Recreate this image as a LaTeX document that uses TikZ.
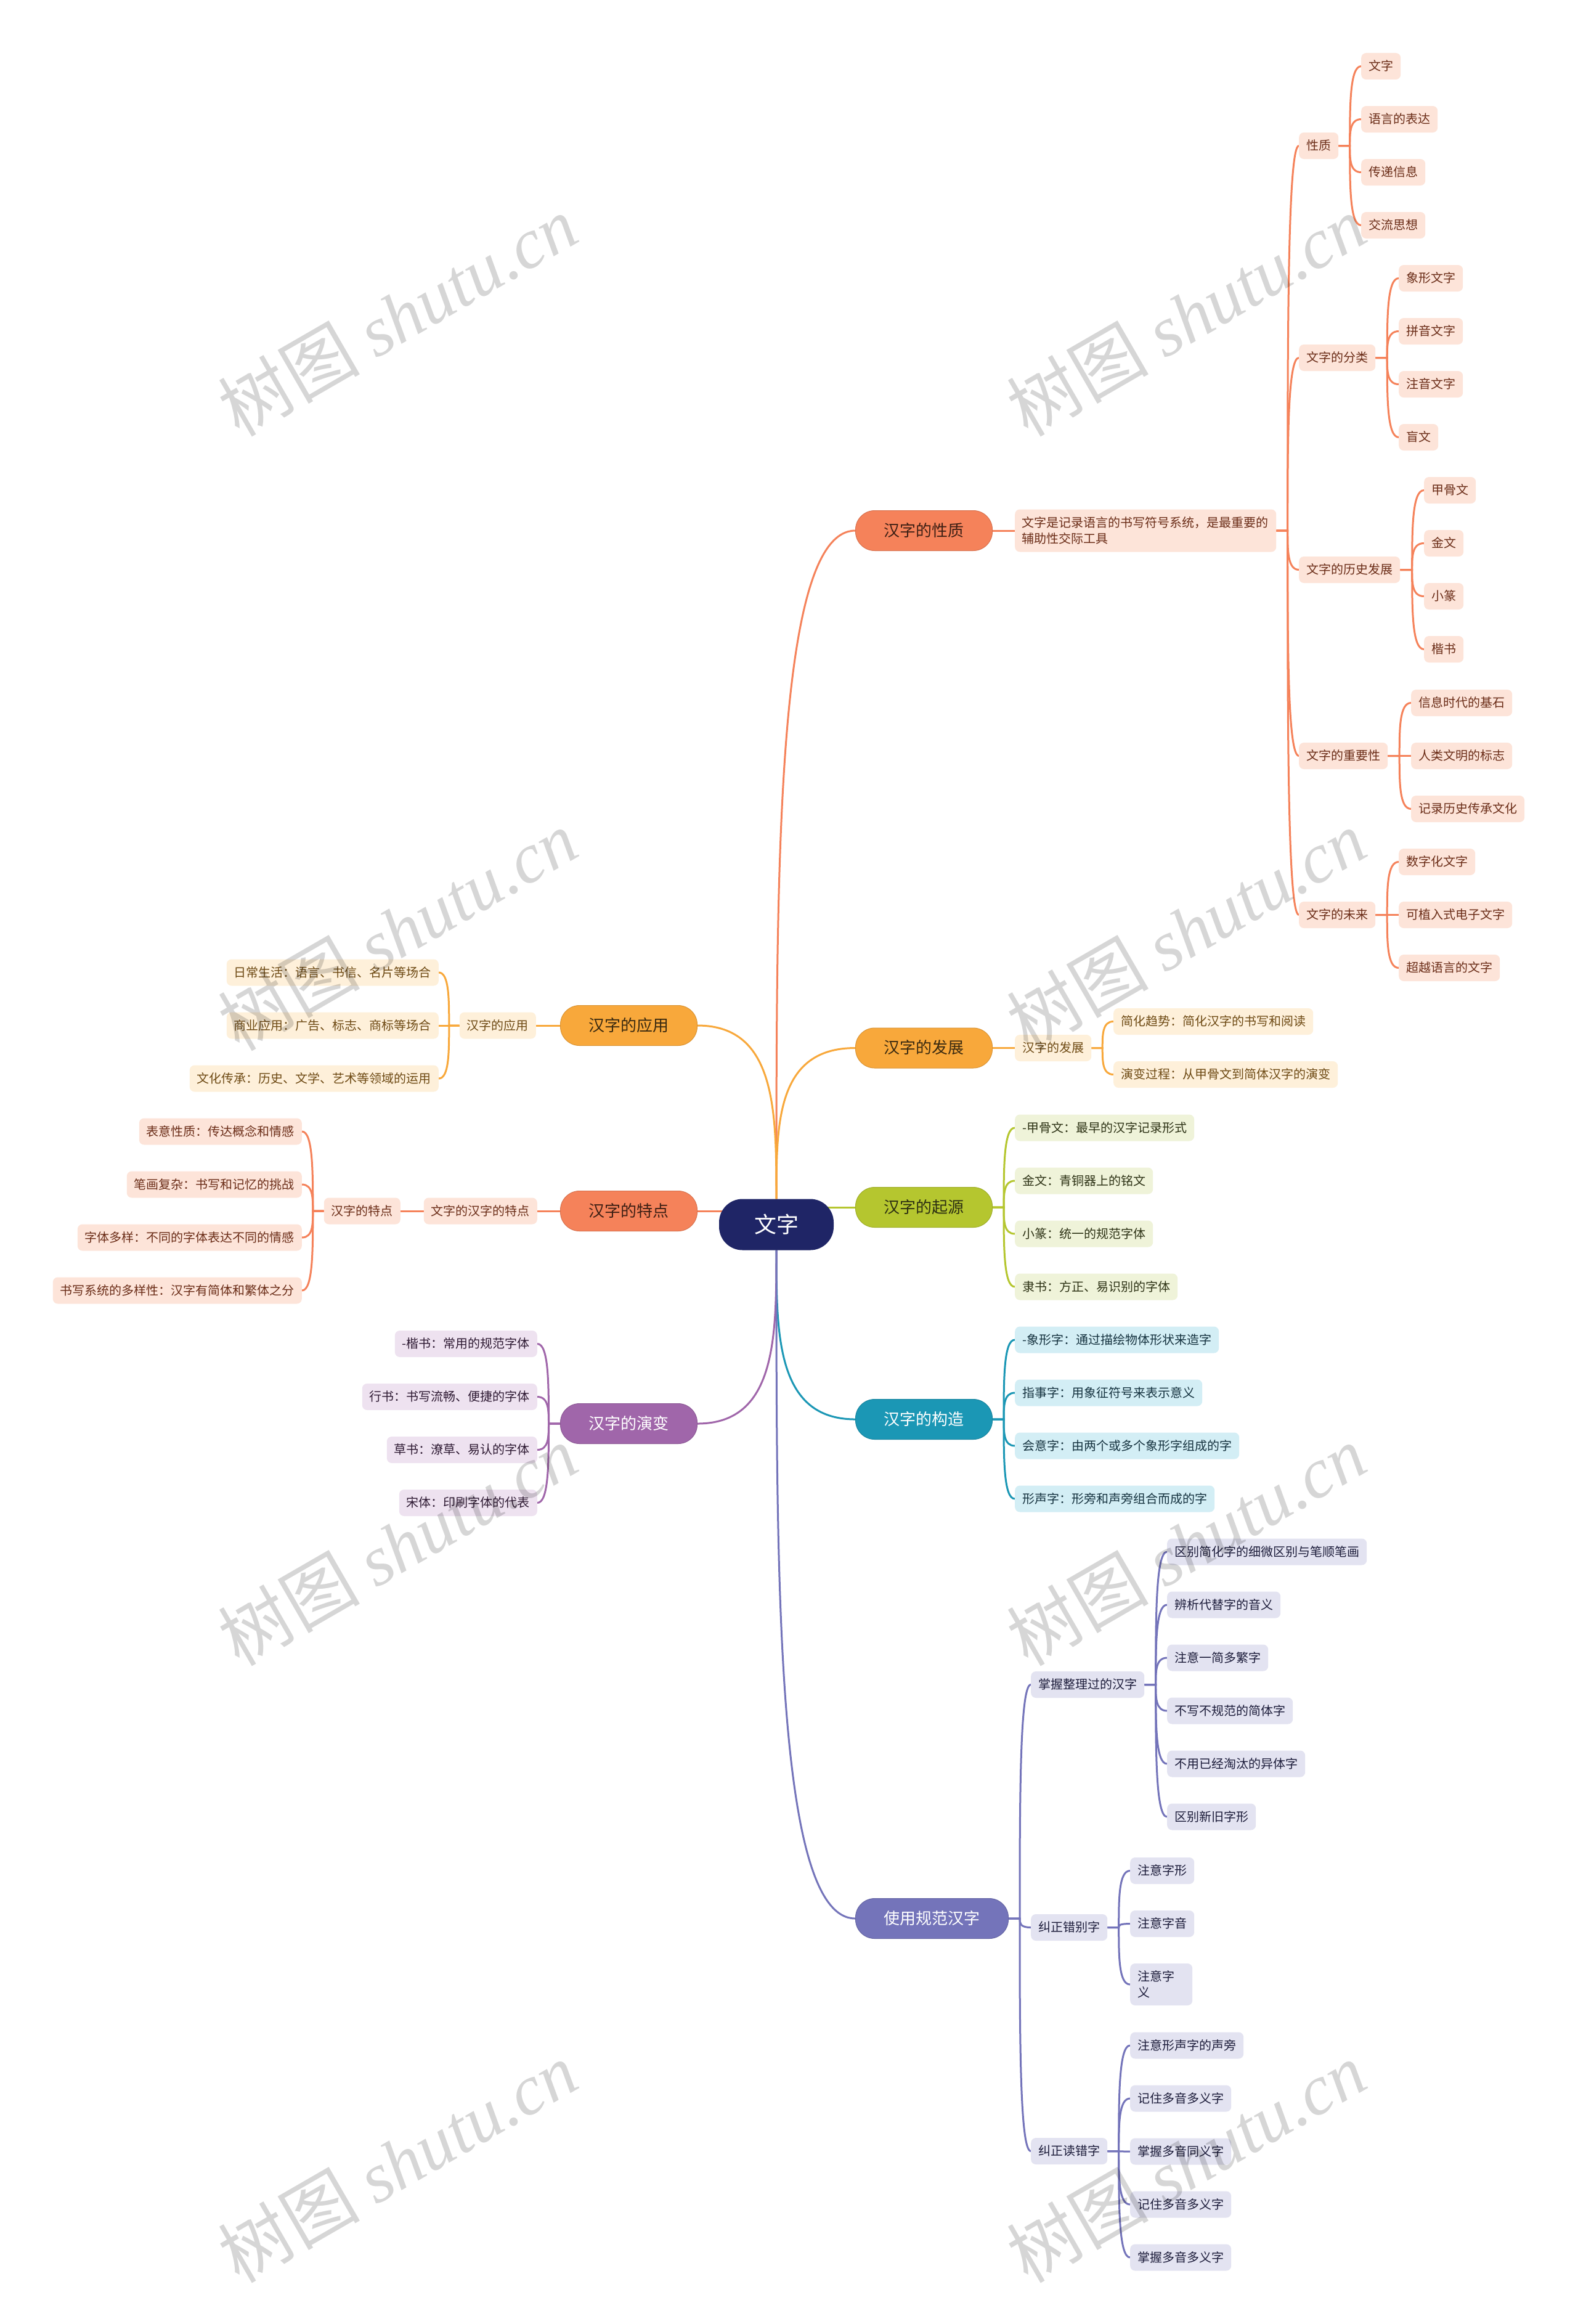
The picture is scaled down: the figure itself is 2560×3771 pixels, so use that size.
\documentclass[tikz,border=0pt]{standalone}
\usepackage{fontspec}
\setmainfont{Noto Sans CJK SC}
\newfontfamily\wmserif{Liberation Serif}
\usetikzlibrary{calc,backgrounds}
\definecolor{cA}{HTML}{F5825A}\definecolor{fA}{HTML}{FDE4D9}\definecolor{tA}{HTML}{6B2D18}\definecolor{mtA}{HTML}{3D1F14}
\definecolor{cB}{HTML}{F8A83B}\definecolor{fB}{HTML}{FEF0DA}\definecolor{tB}{HTML}{6E4A14}\definecolor{mtB}{HTML}{3A2A10}
\definecolor{cC}{HTML}{B5C62F}\definecolor{fC}{HTML}{EFF3D9}\definecolor{tC}{HTML}{2E3316}\definecolor{mtC}{HTML}{2C2F12}
\definecolor{cD}{HTML}{1B97B5}\definecolor{fD}{HTML}{D3EEF5}\definecolor{tD}{HTML}{163340}
\definecolor{cE}{HTML}{7474BA}\definecolor{fE}{HTML}{E3E3F1}\definecolor{tE}{HTML}{1D1D3B}
\definecolor{cF}{HTML}{A066AA}\definecolor{fF}{HTML}{EEE2F0}\definecolor{tF}{HTML}{2E1A33}
\definecolor{cCen}{HTML}{1F2566}
\tikzset{
  sub/.style={font=\fontsize{20}{26}\selectfont, inner xsep=12pt, inner ysep=0pt, minimum height=43pt, rounded corners=8pt},
  one/.style={text height=17pt, text depth=2.5pt},
  mainn/.style={font=\fontsize{26}{30}\selectfont, inner xsep=46pt, inner ysep=0pt, minimum height=65pt, rounded corners=31pt, text height=22pt, text depth=3.5pt, line width=1pt},
  cen/.style={fill=cCen, text=white, font=\fontsize{36}{40}\selectfont, inner xsep=57pt, inner ysep=0pt, minimum height=83pt, rounded corners=38pt, text height=30.5pt, text depth=4.5pt},
  sA/.style={fill=fA, text=tA}, sB/.style={fill=fB, text=tB}, sC/.style={fill=fC, text=tC},
  sD/.style={fill=fD, text=tD}, sE/.style={fill=fE, text=tE}, sF/.style={fill=fF, text=tF},
  mA/.style={fill=cA, draw=cA!88!black, text=mtA}, mB/.style={fill=cB, draw=cB!88!black, text=mtB},
  mC/.style={fill=cC, draw=cC!88!black, text=mtC}, mD/.style={fill=cD, draw=cD!88!black, text=white},
  mE/.style={fill=cE, draw=cE!88!black, text=white}, mF/.style={fill=cF, draw=cF!88!black, text=white},
  lA/.style={draw=cA, line width=3pt}, lB/.style={draw=cB, line width=3pt}, lC/.style={draw=cC, line width=3pt},
  lD/.style={draw=cD, line width=3pt}, lE/.style={draw=cE, line width=3pt}, lF/.style={draw=cF, line width=3pt},
  mc/.style={to path={let \p1=(\tikztostart), \p2=(\tikztotarget) in .. controls (\x1,{0.5*\y1+0.5*\y2}) and (\x1,\y2) .. (\tikztotarget)}},
  sc/.style={to path={let \p1=(\tikztostart), \p2=(\tikztotarget), \n1={0.5*\x1+0.5*\x2} in -- (\n1,\y1) .. controls (\n1,{0.5*\y1+0.5*\y2}) and (\n1,\y2) .. (\tikztotarget)}},
  wm/.style={rotate=30, text=black, text opacity=0.16, font=\fontsize{115}{115}\selectfont, inner sep=0pt}
}
\begin{document}
\begin{tikzpicture}[x=1pt,y=-1pt]
\useasboundingbox (0,0) rectangle (2560,3771);
% centre
\node[cen] (c) at (1260,1987) {文字};
% main branches
\node[mainn,mA,anchor=west] (xz) at (1388,861) {汉字的性质};
\node[mainn,mB,anchor=west] (fz) at (1388,1700.5) {汉字的发展};
\node[mainn,mC,anchor=west] (qy) at (1388,1959) {汉字的起源};
\node[mainn,mD,anchor=west] (gz) at (1388,2303) {汉字的构造};
\node[mainn,mE,anchor=west] (sy) at (1388,3113) {使用规范汉字};
\node[mainn,mB,anchor=east] (yy) at (1132,1664) {汉字的应用};
\node[mainn,mA,anchor=east] (td) at (1132,1965) {汉字的特点};
\node[mainn,mF,anchor=east] (yb) at (1132,2310) {汉字的演变};
% 性质 subtree
\node[sub,sA,anchor=west,inner xsep=11.5pt,text width=401pt,align=left,minimum height=69pt] (xz1) at (1647,861) {文字是记录语言的书写符号系统，是最重要的\\辅助性交际工具};
\node[sub,one,sA,anchor=west] (xzA) at (2108,236.5) {性质};
\node[sub,one,sA,anchor=west] (xzB) at (2108,580.5) {文字的分类};
\node[sub,one,sA,anchor=west] (xzC) at (2108,924.5) {文字的历史发展};
\node[sub,one,sA,anchor=west] (xzD) at (2108,1226.5) {文字的重要性};
\node[sub,one,sA,anchor=west] (xzE) at (2108,1484.5) {文字的未来};
\foreach \t [count=\i] in {文字,语言的表达,传递信息,交流思想}
  \node[sub,one,sA,anchor=west] (xzA\i) at (2209,{107.5+86*(\i-1)}) {\t};
\foreach \t [count=\i] in {象形文字,拼音文字,注音文字,盲文}
  \node[sub,one,sA,anchor=west] (xzB\i) at (2270,{451.5+86*(\i-1)}) {\t};
\foreach \t [count=\i] in {甲骨文,金文,小篆,楷书}
  \node[sub,one,sA,anchor=west] (xzC\i) at (2311,{795.5+86*(\i-1)}) {\t};
\foreach \t [count=\i] in {信息时代的基石,人类文明的标志,记录历史传承文化}
  \node[sub,one,sA,anchor=west] (xzD\i) at (2290,{1140.5+86*(\i-1)}) {\t};
\foreach \t [count=\i] in {数字化文字,可植入式电子文字,超越语言的文字}
  \node[sub,one,sA,anchor=west] (xzE\i) at (2270,{1398.5+86*(\i-1)}) {\t};
% 发展 subtree
\node[sub,one,sB,anchor=west] (fz1) at (1647,1700.5) {汉字的发展};
\node[sub,one,sB,anchor=west] (fz11) at (1807,1657.5) {简化趋势：简化汉字的书写和阅读};
\node[sub,one,sB,anchor=west] (fz12) at (1807,1743.5) {演变过程：从甲骨文到简体汉字的演变};
% 起源 subtree
\foreach \t [count=\i] in {-甲骨文：最早的汉字记录形式,金文：青铜器上的铭文,小篆：统一的规范字体,隶书：方正、易识别的字体}
  \node[sub,one,sC,anchor=west] (qy\i) at (1647,{1830+86*(\i-1)}) {\t};
% 构造 subtree
\foreach \t [count=\i] in {-象形字：通过描绘物体形状来造字,指事字：用象征符号来表示意义,会意字：由两个或多个象形字组成的字,形声字：形旁和声旁组合而成的字}
  \node[sub,one,sD,anchor=west] (gz\i) at (1647,{2174+86*(\i-1)}) {\t};
% 使用规范汉字 subtree
\node[sub,one,sE,anchor=west] (syA) at (1673,2733.5) {掌握整理过的汉字};
\node[sub,one,sE,anchor=west] (syB) at (1673,3127.5) {纠正错别字};
\node[sub,one,sE,anchor=west] (syC) at (1673,3490.5) {纠正读错字};
\foreach \t [count=\i] in {区别简化字的细微区别与笔顺笔画,辨析代替字的音义,注意一简多繁字,不写不规范的简体字,不用已经淘汰的异体字,区别新旧字形}
  \node[sub,one,sE,anchor=west] (syA\i) at (1894,{2518+86*(\i-1)}) {\t};
\node[sub,one,sE,anchor=west] (syB1) at (1834,3035.5) {注意字形};
\node[sub,one,sE,anchor=west] (syB2) at (1834,3121.5) {注意字音};
\node[sub,sE,anchor=west,text width=77pt,align=left,minimum height=68pt] (syB3) at (1834,3220) {注意字\\义};
\foreach \t [count=\i] in {注意形声字的声旁,记住多音多义字,掌握多音同义字,记住多音多义字,掌握多音多义字}
  \node[sub,one,sE,anchor=west] (syC\i) at (1834,{3319+86*(\i-1)}) {\t};
% 应用 subtree
\node[sub,one,sB,anchor=east] (yy1) at (870,1664) {汉字的应用};
\foreach \t [count=\i] in {日常生活：语言、书信、名片等场合,商业应用：广告、标志、商标等场合,文化传承：历史、文学、艺术等领域的运用}
  \node[sub,one,sB,anchor=east] (yy1\i) at (712,{1578+86*(\i-1)}) {\t};
% 特点 subtree
\node[sub,one,sA,anchor=east] (td1) at (872,1965) {文字的汉字的特点};
\node[sub,one,sA,anchor=east] (td2) at (650,1965) {汉字的特点};
\foreach \t [count=\i] in {表意性质：传达概念和情感,笔画复杂：书写和记忆的挑战,字体多样：不同的字体表达不同的情感,书写系统的多样性：汉字有简体和繁体之分}
  \node[sub,one,sA,anchor=east] (td2\i) at (490,{1836+86*(\i-1)}) {\t};
% 演变 subtree
\foreach \t [count=\i] in {-楷书：常用的规范字体,行书：书写流畅、便捷的字体,草书：潦草、易认的字体,宋体：印刷字体的代表}
  \node[sub,one,sF,anchor=east] (yb\i) at (872,{2180.5+86*(\i-1)}) {\t};
% connectors
\begin{scope}[on background layer]
\fill[white] (0,0) rectangle (2560,3771);
\draw[lA] (c.north) to[mc] (xz.west);
\draw[lB] (c.north) to[mc] (fz.west);
\draw[lB] (c.north) to[mc] (yy.east);
\draw[lC] (c.center |- qy.west) -- (qy.west);
\draw[lA] (c.center |- td.east) -- (td.east);
\draw[lD] (c.south) to[mc] (gz.west);
\draw[lF] (c.south) to[mc] (yb.east);
\draw[lE] (c.south) to[mc] (sy.west);
% 性质
\draw[lA] (xz.east) -- (xz1.west);
\foreach \k in {A,B,C,D,E} \draw[lA] (xz1.east) to[sc] (xz\k.west);
\foreach \i in {1,...,4} \draw[lA] (xzA.east) to[sc] (xzA\i.west);
\foreach \i in {1,...,4} \draw[lA] (xzB.east) to[sc] (xzB\i.west);
\foreach \i in {1,...,4} \draw[lA] (xzC.east) to[sc] (xzC\i.west);
\foreach \i in {1,...,3} \draw[lA] (xzD.east) to[sc] (xzD\i.west);
\foreach \i in {1,...,3} \draw[lA] (xzE.east) to[sc] (xzE\i.west);
% 发展
\draw[lB] (fz.east) -- (fz1.west);
\foreach \i in {1,2} \draw[lB] (fz1.east) to[sc] (fz1\i.west);
% 起源, 构造
\foreach \i in {1,...,4} \draw[lC] (qy.east) to[sc] (qy\i.west);
\foreach \i in {1,...,4} \draw[lD] (gz.east) to[sc] (gz\i.west);
% 使用规范汉字
\foreach \k in {A,B,C} \draw[lE] (sy.east) to[sc] (sy\k.west);
\foreach \i in {1,...,6} \draw[lE] (syA.east) to[sc] (syA\i.west);
\foreach \i in {1,...,3} \draw[lE] (syB.east) to[sc] (syB\i.west);
\foreach \i in {1,...,5} \draw[lE] (syC.east) to[sc] (syC\i.west);
% 应用
\draw[lB] (yy.west) -- (yy1.east);
\foreach \i in {1,...,3} \draw[lB] (yy1.west) to[sc] (yy1\i.east);
% 特点
\draw[lA] (td.west) -- (td1.east);
\draw[lA] (td1.west) -- (td2.east);
\foreach \i in {1,...,4} \draw[lA] (td2.west) to[sc] (td2\i.east);
% 演变
\foreach \i in {1,...,4} \draw[lF] (yb.west) to[sc] (yb\i.east);
\end{scope}
% watermarks
\node[wm] (wm1) at (645,512) {树图 {\wmserif\itshape shutu.cn}};
\node[wm] (wm2) at (1925,512) {树图 {\wmserif\itshape shutu.cn}};
\node[wm] (wm3) at (645,1509) {树图 {\wmserif\itshape shutu.cn}};
\node[wm] (wm4) at (1925,1509) {树图 {\wmserif\itshape shutu.cn}};
\node[wm] (wm5) at (645,2507) {树图 {\wmserif\itshape shutu.cn}};
\node[wm] (wm6) at (1925,2507) {树图 {\wmserif\itshape shutu.cn}};
\node[wm] (wm7) at (645,3508) {树图 {\wmserif\itshape shutu.cn}};
\node[wm] (wm8) at (1925,3508) {树图 {\wmserif\itshape shutu.cn}};
\end{tikzpicture}
\end{document}
